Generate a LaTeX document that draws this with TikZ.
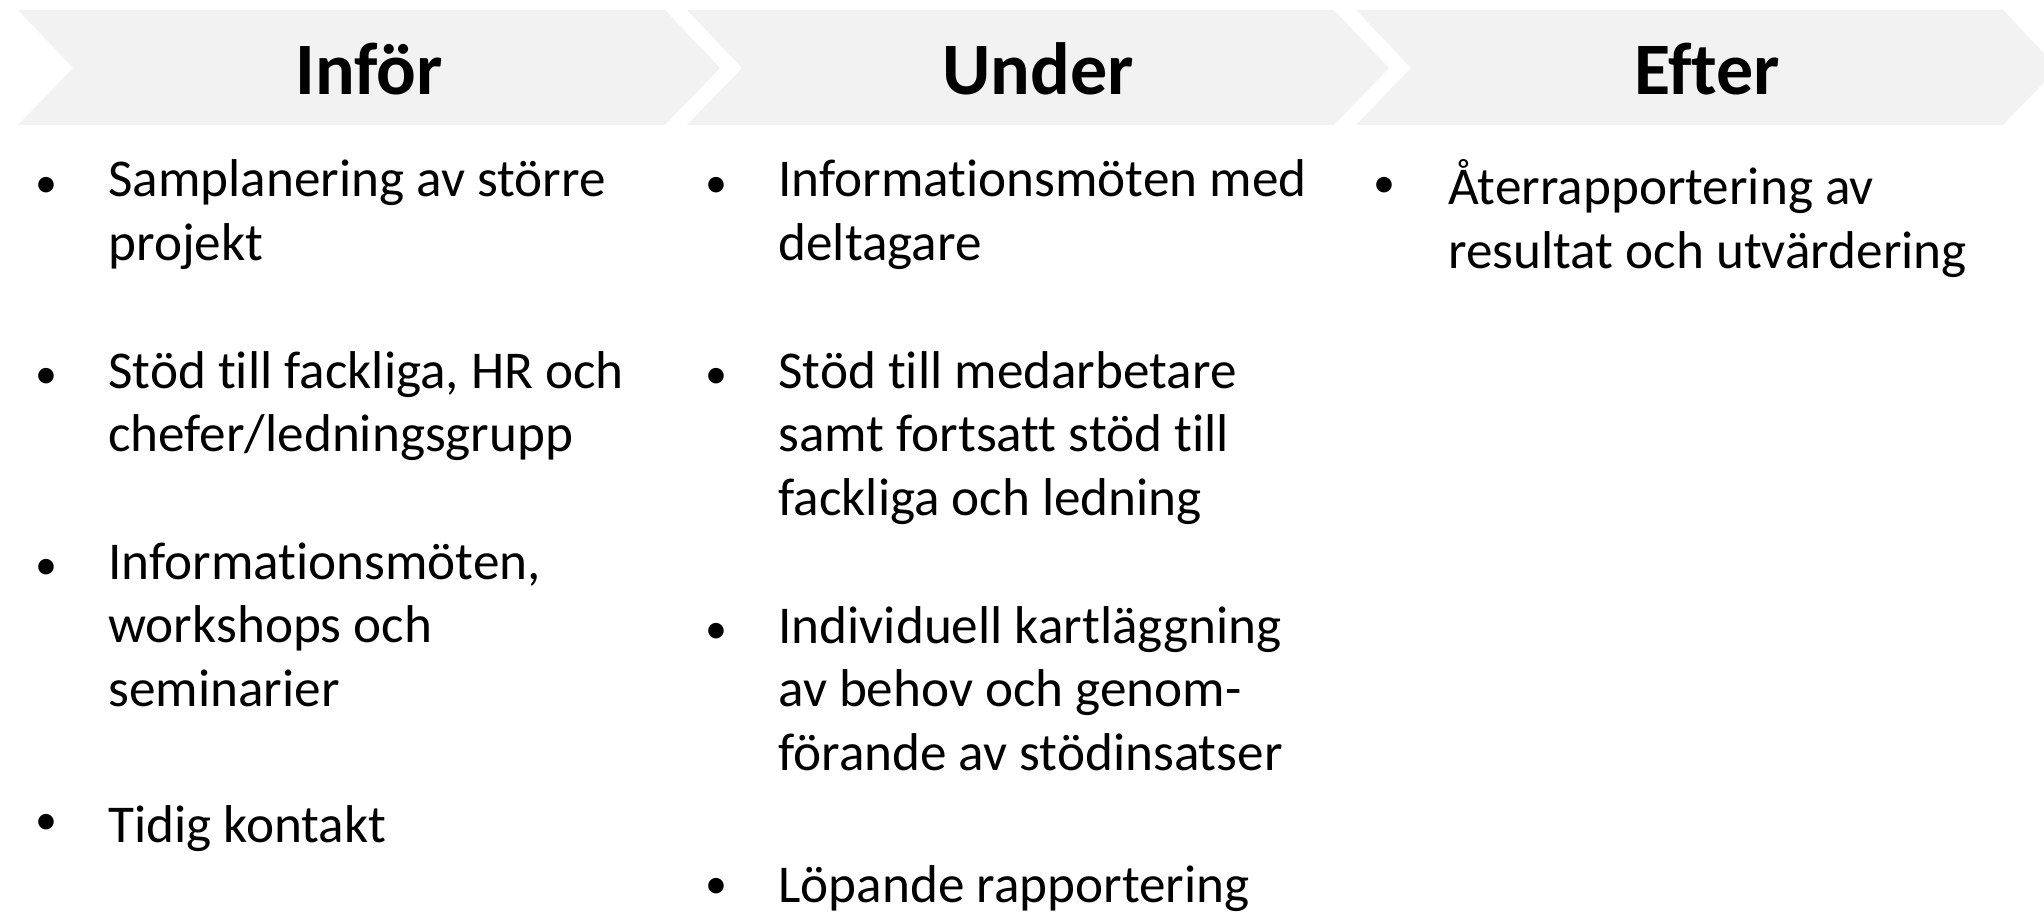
\documentclass[tikz,border=0pt]{standalone}
\usepackage{fontspec}
\setmainfont{Carlito}[Ligatures=NoCommon]
\definecolor{chevgray}{HTML}{F2F2F2}
\newcommand{\headfont}{\fontsize{37}{45}\selectfont\bfseries}
\newcommand{\bodyfont}{\fontsize{26.6}{31.88}\selectfont}
\newcommand{\dotfont}{\fontsize{22}{26}\selectfont}
\tikzset{
  phase/.style={font=\headfont, anchor=base, inner sep=0pt},
  bulletpt/.style={font=\dotfont, anchor=center, inner sep=0pt},
  itemtext/.style={font=\bodyfont, align=left, anchor=north west, inner sep=0pt,
    execute at begin node=\strut},
}
\begin{document}
\begin{tikzpicture}[x=0.5pt, y=-0.5pt]
  % ==== CANVAS ====
  \useasboundingbox (0,0) rectangle (2044,913);
  \clip (0,0) rectangle (2044,913);

  % ==== CHEVRONS ====
  \foreach \i/\name/\label in {0/infor/Inför, 1/under/Under, 2/efter/Efter} {
    \pgfmathsetmacro{\xl}{18+669*\i}
    \fill[chevgray] (\xl,10) -- ++(647,0) -- ++(55,58) -- ++(-55,57)
      -- ++(-647,0) -- ++(55,-57) -- cycle;
    \node[phase] (\name) at (\xl+351,95) {\label};
  }

  % ==== INFÖR ====
  \node[bulletpt] (infor-b1) at (46,187) {•};
  \node[itemtext] (infor-1) at (108,159.4) {Samplanering av större\\projekt};
  \node[bulletpt] (infor-b2) at (46,378.3) {•};
  \node[itemtext] (infor-2) at (108,350.7) {Stöd till fackliga, HR och\\chefer/ledningsgrupp};
  \node[bulletpt] (infor-b3) at (46,569.6) {•};
  \node[itemtext] (infor-3) at (108,542) {Informationsmöten,\\workshops och\\seminarier};
  \node[bulletpt] (infor-b4) at (46,824.6) {•};
  \node[itemtext] (infor-4) at (108,797) {Tidig kontakt};

  % ==== UNDER ====
  \node[bulletpt] (under-b1) at (716,187) {•};
  \node[itemtext] (under-1) at (778,159.4) {Informationsmöten med\\deltagare};
  \node[bulletpt] (under-b2) at (716,378.3) {•};
  \node[itemtext] (under-2) at (778,350.7) {Stöd till medarbetare\\samt fortsatt stöd till\\fackliga och ledning};
  \node[bulletpt] (under-b3) at (716,633.3) {•};
  \node[itemtext] (under-3) at (778,605.7) {Individuell kartläggning\\av behov och genom-\\förande av stödinsatser};
  \node[bulletpt] (under-b4) at (716,888.4) {•};
  \node[itemtext] (under-4) at (778,857.8) {Löpande rapportering};

  % ==== EFTER ====
  \node[bulletpt] (efter-b1) at (1384,187) {•};
  \node[itemtext] (efter-1) at (1448,159.4) {Återrapportering av\\resultat och utvärdering};
\end{tikzpicture}
\end{document}
